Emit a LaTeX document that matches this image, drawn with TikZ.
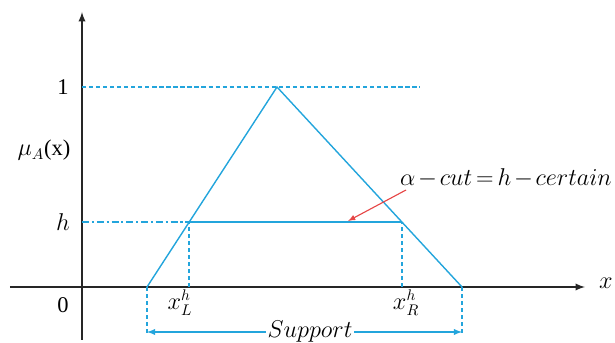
\documentclass[tikz,border=0pt]{standalone}
\usepackage{fontspec}
\setmainfont{Liberation Serif}
\usetikzlibrary{arrows}
\definecolor{fzblue}{RGB}{35,165,220}
\definecolor{fzred}{RGB}{230,70,70}

\begin{document}
\begin{tikzpicture}[memb/.style={color=fzblue, line width=1pt},
				guide/.style={color=fzblue, line width=1pt, dash pattern=on 3pt off 2pt},
				x=1cm, y=1cm, >=latex, font=\fontsize{16}{19}\selectfont]
				\useasboundingbox (-2.05,-1.4) rectangle (13.325,7.175);
				% Punkte
				\coordinate (o) at (0,0);
				\coordinate (l) at (1.625,0);
				\coordinate (top) at (4.875,5);
				\coordinate (r) at (9.5,0);
				\coordinate (xl) at (2.68,1.625);
				\coordinate (xr) at (7.997,1.625);
				\coordinate (xlb) at (2.68,0);
				\coordinate (xrb) at (7.997,0);
				\coordinate (hy) at (0,1.625);
				\coordinate (oney) at (0,5);
				\coordinate (onee) at (8.45,5);
				\coordinate (ld) at (1.625,-1.15);
				\coordinate (rd) at (9.5,-1.15);
				% Achsen
				\draw[->, line width=1.3pt, color=black!85] (-1.8,0) -- (12.575,0);
				\draw[->, line width=1.3pt, color=black!85] (0,-1.325) -- (0,6.875);
				% Beschriftung
				\node (lx) at (13.1,0.1) {$x$};
				\node (lmu) at (-0.95,3.425) {$\mu_A$(x)};
				\node (lone) at (-0.475,5) {1};
				\node (lh) at (-0.475,1.625) {$h$};
				\node (lzero) at (-0.475,-0.45) {0};
				\node (lxl) at (2.45,-0.4) {$x_L^h$};
				\node (lxr) at (8.1,-0.4) {$x_R^h$};
				\node[anchor=east, inner sep=0pt] (lcut) at (13.25,2.725)
					{\medmuskip=2mu \thickmuskip=3mu $\alpha-cut=h-certain$};
				\node[fill=white, inner sep=1pt] (lsup) at (5.7,-1.125) {$Support$};
				% Hilfslinien
				\draw[guide] (oney) -- (onee);
				\draw[memb, dash pattern=on 5pt off 2pt on 1.5pt off 2pt] (hy) -- (xl);
				\draw[guide] (xlb) -- (xl);
				\draw[guide] (xrb) -- (xr);
				\draw[guide] (l) -- (ld);
				\draw[guide] (r) -- (rd);
				% Zugehoerigkeitsfunktion
				\draw[memb] (l) -- (top) -- (r);
				\draw[memb] (xl) -- (xr);
				% Pfeile
				\draw[memb, ->] (lsup) -- (ld |- lsup);
				\draw[memb, ->] (lsup) -- (rd |- lsup);
				\draw[->, color=fzred, line width=0.8pt] (8.1,2.425) -- (6.65,1.65);
			\end{tikzpicture}
\end{document}
